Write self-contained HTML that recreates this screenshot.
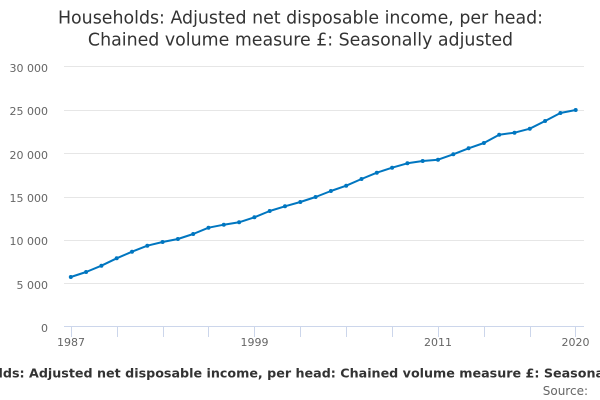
<!DOCTYPE html>
<html>
<head>
<meta charset="utf-8">
<style>
  html, body { margin: 0; padding: 0; background: #ffffff; }
  body { width: 600px; height: 400px; overflow: hidden; }
  svg { display: block; font-family: "DejaVu Sans", "Liberation Sans", sans-serif; }
</style>
</head>
<body>
<svg width="600" height="400" viewBox="0 0 600 400" xmlns="http://www.w3.org/2000/svg">
  <rect x="0" y="0" width="600" height="400" fill="#ffffff"/>

  <!-- Title -->
  <text x="300.5" y="23.5" text-anchor="middle" font-size="17.4" fill="#333333">Households: Adjusted net disposable income, per head:</text>
  <text x="300.5" y="45.5" text-anchor="middle" font-size="17.4" fill="#333333">Chained volume measure £: Seasonally adjusted</text>

  <!-- Grid lines -->
  <g stroke="#e6e6e6" stroke-width="1">
    <line x1="64" y1="66.5" x2="584" y2="66.5"/>
    <line x1="64" y1="110.5" x2="584" y2="110.5"/>
    <line x1="64" y1="153.5" x2="584" y2="153.5"/>
    <line x1="64" y1="197.5" x2="584" y2="197.5"/>
    <line x1="64" y1="240.5" x2="584" y2="240.5"/>
    <line x1="64" y1="283.5" x2="584" y2="283.5"/>
  </g>

  <!-- X axis -->
  <line x1="64" y1="326.5" x2="584" y2="326.5" stroke="#ccd6eb" stroke-width="1"/>
  <g stroke="#ccd6eb" stroke-width="1">
    <line x1="71.5" y1="327" x2="71.5" y2="337"/>
    <line x1="117.5" y1="327" x2="117.5" y2="337"/>
    <line x1="163.5" y1="327" x2="163.5" y2="337"/>
    <line x1="208.5" y1="327" x2="208.5" y2="337"/>
    <line x1="254.5" y1="327" x2="254.5" y2="337"/>
    <line x1="300.5" y1="327" x2="300.5" y2="337"/>
    <line x1="346.5" y1="327" x2="346.5" y2="337"/>
    <line x1="392.5" y1="327" x2="392.5" y2="337"/>
    <line x1="438.5" y1="327" x2="438.5" y2="337"/>
    <line x1="484.5" y1="327" x2="484.5" y2="337"/>
    <line x1="530.5" y1="327" x2="530.5" y2="337"/>
    <line x1="575.5" y1="327" x2="575.5" y2="337"/>
  </g>

  <!-- Y labels -->
  <g font-size="11" fill="#666666" text-anchor="end">
    <text x="48" y="72">30 000</text>
    <text x="48" y="115">25 000</text>
    <text x="48" y="159">20 000</text>
    <text x="48" y="202">15 000</text>
    <text x="48" y="245">10 000</text>
    <text x="48" y="289">5 000</text>
    <text x="48" y="332">0</text>
  </g>

  <!-- X labels -->
  <g font-size="11" fill="#666666" text-anchor="middle">
    <text x="71" y="346">1987</text>
    <text x="254.5" y="346">1999</text>
    <text x="438" y="346">2011</text>
    <text x="575.5" y="346">2020</text>
  </g>

  <!-- Series -->
  <polyline fill="none" stroke="#0076c0" stroke-width="2" stroke-linejoin="round" stroke-linecap="round"
    points="70.8,277 86.1,272 101.4,265.7 116.7,258.3 132,251.7 147.3,245.7 162.6,242 177.9,239 193.2,234 208.5,227.7 223.8,224.7 239.1,222.3 254.4,217.3 269.7,211 285,206.3 300.3,202 315.6,197 330.9,191 346.2,185.7 361.5,179 376.8,172.7 392.1,167.7 407.4,163.3 422.7,161 438,159.7 453.3,154.3 468.6,148.3 483.9,143 499.2,134.7 514.5,132.7 529.8,128.7 545.1,121 560.4,113 575.7,110"/>
  <g fill="#0076c0">
    <circle cx="70.8" cy="277" r="2"/>
    <circle cx="86.1" cy="272" r="2"/>
    <circle cx="101.4" cy="265.7" r="2"/>
    <circle cx="116.7" cy="258.3" r="2"/>
    <circle cx="132" cy="251.7" r="2"/>
    <circle cx="147.3" cy="245.7" r="2"/>
    <circle cx="162.6" cy="242" r="2"/>
    <circle cx="177.9" cy="239" r="2"/>
    <circle cx="193.2" cy="234" r="2"/>
    <circle cx="208.5" cy="227.7" r="2"/>
    <circle cx="223.8" cy="224.7" r="2"/>
    <circle cx="239.1" cy="222.3" r="2"/>
    <circle cx="254.4" cy="217.3" r="2"/>
    <circle cx="269.7" cy="211" r="2"/>
    <circle cx="285" cy="206.3" r="2"/>
    <circle cx="300.3" cy="202" r="2"/>
    <circle cx="315.6" cy="197" r="2"/>
    <circle cx="330.9" cy="191" r="2"/>
    <circle cx="346.2" cy="185.7" r="2"/>
    <circle cx="361.5" cy="179" r="2"/>
    <circle cx="376.8" cy="172.7" r="2"/>
    <circle cx="392.1" cy="167.7" r="2"/>
    <circle cx="407.4" cy="163.3" r="2"/>
    <circle cx="422.7" cy="161" r="2"/>
    <circle cx="438" cy="159.7" r="2"/>
    <circle cx="453.3" cy="154.3" r="2"/>
    <circle cx="468.6" cy="148.3" r="2"/>
    <circle cx="483.9" cy="143" r="2"/>
    <circle cx="499.2" cy="134.7" r="2"/>
    <circle cx="514.5" cy="132.7" r="2"/>
    <circle cx="529.8" cy="128.7" r="2"/>
    <circle cx="545.1" cy="121" r="2"/>
    <circle cx="560.4" cy="113" r="2"/>
    <circle cx="575.7" cy="110" r="2"/>
  </g>

  <!-- Caption -->
  <text x="312" y="377.5" text-anchor="middle" font-size="12.7" font-weight="bold" fill="#333333">Households: Adjusted net disposable income, per head: Chained volume measure £: Seasonally adjusted</text>
  <text x="588" y="395" text-anchor="end" font-size="12" fill="#666666">Source:</text>
</svg>
</body>
</html>
